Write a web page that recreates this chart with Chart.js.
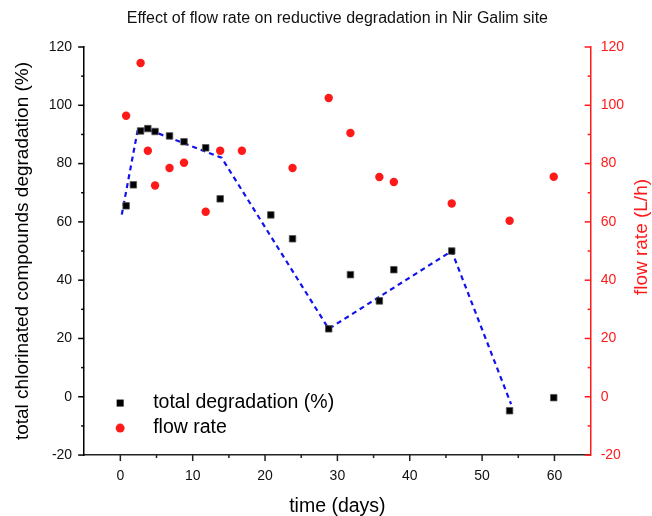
<!DOCTYPE html>
<html>
<head>
<meta charset="utf-8">
<script src="https://cdn.jsdelivr.net/npm/chart.js@4.4.1/dist/chart.umd.min.js"></script>
<style>
  html, body { margin: 0; padding: 0; background: #fff; }
  #wrap { width: 652px; height: 516px; }
</style>
</head>
<body>
<div id="wrap"><canvas id="chart" width="652" height="516"></canvas></div>
<script>
// sampling days and values
const degDays = [0.8, 1.8, 2.8, 3.8, 4.8, 6.8, 8.8, 11.8, 13.8, 20.8, 23.8, 28.8, 31.8, 35.8, 37.8, 45.8, 53.8, 59.9];
const degradation = [65.5, 72.7, 91.2, 92, 91, 89.5, 87.5, 85.4, 67.9, 62.4, 54.2, 23.3, 41.9, 32.9, 43.6, 50, -4.8, -0.3];

const flowDays = [0.8, 2.8, 3.8, 4.8, 6.8, 8.8, 11.8, 13.8, 16.8, 23.8, 28.8, 31.8, 35.8, 37.8, 45.8, 53.8, 59.9];
const flowRate = [96.4, 114.5, 84.4, 72.5, 78.5, 80.3, 63.5, 84.4, 84.4, 78.5, 102.5, 90.5, 75.4, 73.7, 66.3, 60.4, 75.5];

// blue dashed trend line vertices
const trendDays = [0.2, 2.4, 3.5, 14, 28.8, 45.8, 54];
const trendValues = [62.5, 91.5, 92, 82, 23.3, 50, -2.5];

const xTicks = [0, 10, 20, 30, 40, 50, 60];
const xMinor = [5, 15, 25, 35, 45, 55];
const yTicks = [-20, 0, 20, 40, 60, 80, 100, 120];
const yMinor = [-10, 10, 30, 50, 70, 90, 110];

const FONT = "Arial, 'Liberation Sans', sans-serif";
const RED = '#ff1a1a';

const toPoints = (xs, ys) => xs.map((x, i) => ({ x: x, y: ys[i] }));
const fixTicks = (list) => (scale) => { scale.ticks = list.map(v => ({ value: v })); };

// tick marks: majors + minors, left out / right in / bottom out
const tickMarks = {
  id: 'tickMarks',
  afterDraw(chart) {
    const { ctx, chartArea, scales } = chart;
    ctx.save();
    ctx.lineWidth = 1.5;

    ctx.strokeStyle = '#000';
    yTicks.forEach(v => {
      const y = scales.y.getPixelForValue(v);
      ctx.beginPath(); ctx.moveTo(chartArea.left - 6, y); ctx.lineTo(chartArea.left, y); ctx.stroke();
    });
    yMinor.forEach(v => {
      const y = scales.y.getPixelForValue(v);
      ctx.beginPath(); ctx.moveTo(chartArea.left - 3, y); ctx.lineTo(chartArea.left, y); ctx.stroke();
    });

    ctx.strokeStyle = '#222';
    xTicks.forEach(v => {
      const x = scales.x.getPixelForValue(v);
      ctx.beginPath(); ctx.moveTo(x, chartArea.bottom); ctx.lineTo(x, chartArea.bottom + 6); ctx.stroke();
    });
    xMinor.forEach(v => {
      const x = scales.x.getPixelForValue(v);
      ctx.beginPath(); ctx.moveTo(x, chartArea.bottom); ctx.lineTo(x, chartArea.bottom + 3); ctx.stroke();
    });

    ctx.strokeStyle = RED;
    yTicks.forEach(v => {
      const y = scales.y2.getPixelForValue(v);
      ctx.beginPath(); ctx.moveTo(chartArea.right - 6, y); ctx.lineTo(chartArea.right, y); ctx.stroke();
    });
    yMinor.forEach(v => {
      const y = scales.y2.getPixelForValue(v);
      ctx.beginPath(); ctx.moveTo(chartArea.right - 3, y); ctx.lineTo(chartArea.right, y); ctx.stroke();
    });

    // right axis title reads bottom-to-top
    ctx.fillStyle = RED;
    ctx.font = '19px ' + FONT;
    ctx.textAlign = 'center';
    ctx.textBaseline = 'middle';
    ctx.translate(chartArea.right + 51, (chartArea.top + chartArea.bottom) / 2 - 14);
    ctx.rotate(-Math.PI / 2);
    ctx.fillText('flow rate (L/h)', 0, 0);
    ctx.restore();
  }
};

// legend sitting inside the plot, lower left
const innerLegend = {
  id: 'innerLegend',
  afterDraw(chart) {
    const { ctx, chartArea } = chart;
    const x0 = chartArea.left + 36;
    const rows = [chartArea.bottom - 52, chartArea.bottom - 27];
    ctx.save();
    ctx.font = '19.5px ' + FONT;
    ctx.textBaseline = 'middle';
    ctx.textAlign = 'left';
    ctx.fillStyle = '#000';
    ctx.fillRect(x0 - 3.5, rows[0] - 3.5, 7, 7);
    ctx.fillText(chart.data.datasets[0].label, x0 + 33, rows[0]);
    ctx.fillStyle = RED;
    ctx.beginPath(); ctx.arc(x0, rows[1], 4.5, 0, Math.PI * 2); ctx.fill();
    ctx.fillStyle = '#000';
    ctx.fillText(chart.data.datasets[1].label, x0 + 33, rows[1]);
    ctx.restore();
  }
};

new Chart(document.getElementById('chart'), {
  type: 'scatter',
  data: {
    datasets: [
      {
        label: 'total degradation (%)',
        data: toPoints(degDays, degradation),
        yAxisID: 'y',
        pointStyle: 'rect',
        pointRadius: 4.6,
        backgroundColor: '#000',
        borderColor: '#555',
        borderWidth: 0.8,
        order: 0
      },
      {
        label: 'flow rate',
        data: toPoints(flowDays, flowRate),
        yAxisID: 'y2',
        pointStyle: 'circle',
        pointRadius: 4.2,
        backgroundColor: RED,
        borderColor: RED,
        borderWidth: 0,
        order: 1
      },
      {
        label: 'trend',
        type: 'line',
        data: toPoints(trendDays, trendValues),
        yAxisID: 'y',
        showLine: true,
        borderColor: '#1212ee',
        borderWidth: 2.2,
        borderDash: [5, 4],
        pointRadius: 0,
        fill: false,
        tension: 0,
        order: 2
      }
    ]
  },
  options: {
    responsive: false,
    animation: false,
    layout: { padding: { left: 7, right: 18, top: 1, bottom: 0 } },
    plugins: {
      legend: { display: false },
      tooltip: { enabled: false },
      title: {
        display: true,
        text: 'Effect of flow rate on reductive degradation in Nir Galim site',
        color: '#111',
        font: { family: FONT, size: 16, weight: 'normal' },
        fullSize: false,
        padding: { top: 8.4, bottom: 18.4 }
      }
    },
    scales: {
      x: {
        type: 'linear',
        min: -5,
        max: 65,
        afterBuildTicks: fixTicks(xTicks),
        grid: { display: false, drawTicks: false },
        border: { display: true, color: '#222', width: 1.5 },
        ticks: { color: '#111', padding: 13, font: { family: FONT, size: 14 }, maxRotation: 0 },
        title: { display: true, text: 'time (days)', color: '#000', font: { family: FONT, size: 19.5, lineHeight: 0.93 }, padding: { top: 0, bottom: 0 } }
      },
      y: {
        type: 'linear',
        position: 'left',
        min: -20,
        max: 120,
        afterBuildTicks: fixTicks(yTicks),
        grid: { display: false, drawTicks: false },
        border: { display: true, color: '#000', width: 1.5 },
        ticks: { color: '#111', padding: 12, font: { family: FONT, size: 14 } },
        title: { display: true, text: 'total chlorinated compounds degradation (%)', color: '#000', font: { family: FONT, size: 19 }, padding: { top: 4, bottom: 3 } }
      },
      y2: {
        type: 'linear',
        position: 'right',
        min: -20,
        max: 120,
        afterBuildTicks: fixTicks(yTicks),
        grid: { display: false, drawTicks: false },
        border: { display: true, color: RED, width: 1.5 },
        ticks: { color: RED, padding: 10, font: { family: FONT, size: 14 } }
      }
    }
  },
  plugins: [tickMarks, innerLegend]
});
</script>
</body>
</html>
